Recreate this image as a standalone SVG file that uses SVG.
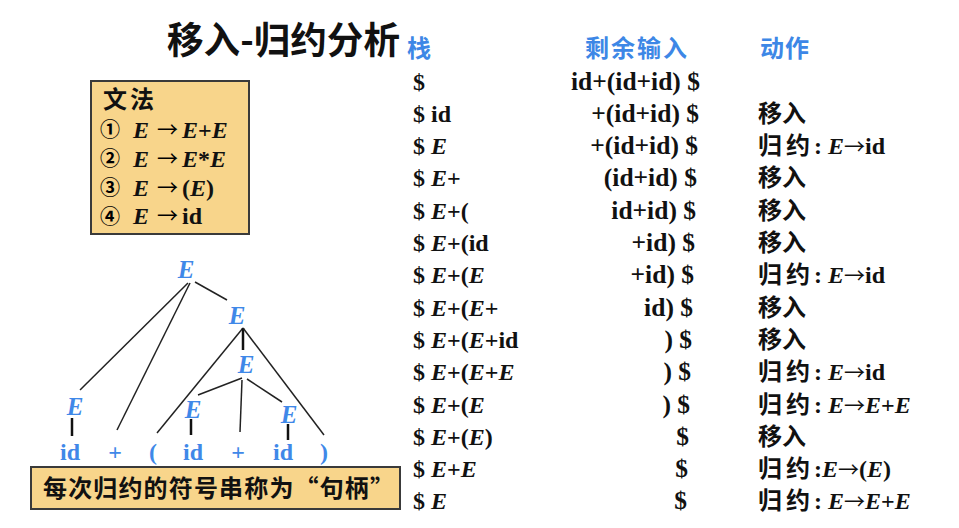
<svg xmlns="http://www.w3.org/2000/svg" width="959" height="528" viewBox="0 0 959 528">
<style>
.bg{fill:#ffffff}
.box{fill:#f8d58b;stroke:#3a3a3a;stroke-width:2}
.title{font-family:"Noto Sans CJK SC","Noto Sans",sans-serif;font-weight:bold;font-size:37px;fill:#111}
.hd{font-family:"Noto Sans CJK SC",sans-serif;font-weight:bold;font-size:24px;fill:#3d87e6}
.t{font-family:"Liberation Serif","Noto Sans CJK SC",serif;font-weight:bold;font-size:24px;fill:#111}
.mid{font-size:25.5px;text-anchor:end}
.i{font-style:italic}
.cjk{font-family:"Noto Sans CJK SC",sans-serif;font-weight:bold}
.ar{font-family:"Noto Sans CJK SC","DejaVu Sans",sans-serif;font-weight:normal;font-size:21px}
.g{font-family:"Liberation Serif","Noto Sans CJK SC",serif;font-weight:bold;font-size:24px;fill:#111}
.num{font-family:"Noto Sans CJK SC","DejaVu Sans",sans-serif;font-weight:bold;font-size:20px}
.node{font-family:"Liberation Serif",serif;font-weight:bold;font-style:italic;font-size:25px;fill:#3f88e8;text-anchor:middle}
.leaf{font-family:"Liberation Serif",serif;font-weight:bold;font-size:24px;fill:#3f88e8;text-anchor:middle}
.edge{stroke:#222;stroke-width:1.5;fill:none}
.stem{stroke:#111;stroke-width:2.5;fill:none}
.note{font-family:"Noto Sans CJK SC",sans-serif;font-weight:bold;font-size:24px;fill:#111}
</style>
<rect class="bg" x="0" y="0" width="959" height="528"/>

<g id="title">
<text class="title" x="167" y="54" textLength="233" lengthAdjust="spacingAndGlyphs">移入-归约分析</text>
</g>

<g id="grammar">
<rect class="box" x="91" y="81" width="158" height="153"/>
<text class="g cjk" x="103" y="108" font-size="19" letter-spacing="3">文法</text>
<text class="num" x="100" y="137">①</text>
<text class="g i" x="133" y="138">E</text>
<text class="ar" x="157" y="137">→</text>
<text class="g" x="182" y="138"><tspan class="i">E</tspan>+<tspan class="i">E</tspan></text>
<text class="num" x="100" y="166">②</text>
<text class="g i" x="133" y="167">E</text>
<text class="ar" x="157" y="166">→</text>
<text class="g" x="182" y="167"><tspan class="i">E</tspan>*<tspan class="i">E</tspan></text>
<text class="num" x="100" y="195">③</text>
<text class="g i" x="133" y="196">E</text>
<text class="ar" x="157" y="195">→</text>
<text class="g" x="182" y="196">(<tspan class="i">E</tspan>)</text>
<text class="num" x="100" y="224">④</text>
<text class="g i" x="133" y="224">E</text>
<text class="ar" x="157" y="223">→</text>
<text class="g" x="182" y="224">id</text>
</g>

<g id="connectors">
<line class="edge" x1="188" y1="283" x2="80" y2="390"/>
<line class="edge" x1="190" y1="283" x2="117" y2="430"/>
<line class="edge" x1="195" y1="282" x2="227" y2="300"/>
<line class="edge" x1="243" y1="328" x2="157" y2="433"/>
<line class="stem" x1="243" y1="328" x2="243" y2="350"/>
<line class="edge" x1="243" y1="328" x2="324" y2="435"/>
<line class="edge" x1="242" y1="378" x2="198" y2="395"/>
<line class="edge" x1="242" y1="380" x2="240" y2="432"/>
<line class="edge" x1="247" y1="379" x2="282" y2="402"/>
<line class="stem" x1="72" y1="418" x2="72" y2="436"/>
<line class="stem" x1="191" y1="419" x2="191" y2="435"/>
<line class="stem" x1="288" y1="424" x2="288" y2="440"/>
</g>

<g id="node-E-root"><text class="node" x="186" y="278">E</text></g>
<g id="node-E-right"><text class="node" x="237" y="324">E</text></g>
<g id="node-E-inner"><text class="node" x="246" y="373">E</text></g>
<g id="node-E-left"><text class="node" x="75" y="415">E</text></g>
<g id="node-E-id2"><text class="node" x="193" y="418">E</text></g>
<g id="node-E-id3"><text class="node" x="289" y="423">E</text></g>
<g id="leaf-id1"><text class="leaf" x="70" y="460">id</text></g>
<g id="leaf-plus1"><text class="leaf" x="115" y="460">+</text></g>
<g id="leaf-lparen"><text class="leaf" x="153" y="460">(</text></g>
<g id="leaf-id2"><text class="leaf" x="193" y="460">id</text></g>
<g id="leaf-plus2"><text class="leaf" x="238" y="460">+</text></g>
<g id="leaf-id3"><text class="leaf" x="283" y="460">id</text></g>
<g id="leaf-rparen"><text class="leaf" x="324" y="460">)</text></g>

<g id="note">
<rect class="box" x="31" y="467" width="369" height="42"/>
<text class="note" x="43" y="497" textLength="351" lengthAdjust="spacing">每次归约的符号串称为“句柄”</text>
</g>

<g id="table">
<text class="hd" x="407" y="57">栈</text>
<text class="hd" x="585" y="57" textLength="102" lengthAdjust="spacing">剩余输入</text>
<text class="hd" x="760" y="57" textLength="49" lengthAdjust="spacing">动作</text>

<text class="t" x="413" y="89.5">$</text>
<text class="t" x="413" y="121.8">$ id</text>
<text class="t" x="413" y="154.1">$ <tspan class="i">E</tspan></text>
<text class="t" x="413" y="186.4">$ <tspan class="i">E</tspan>+</text>
<text class="t" x="413" y="218.7">$ <tspan class="i">E</tspan>+(</text>
<text class="t" x="413" y="251">$ <tspan class="i">E</tspan>+(id</text>
<text class="t" x="413" y="283.3">$ <tspan class="i">E</tspan>+(<tspan class="i">E</tspan></text>
<text class="t" x="413" y="315.6">$ <tspan class="i">E</tspan>+(<tspan class="i">E</tspan>+</text>
<text class="t" x="413" y="347.9">$ <tspan class="i">E</tspan>+(<tspan class="i">E</tspan>+id</text>
<text class="t" x="413" y="380.2">$ <tspan class="i">E</tspan>+(<tspan class="i">E</tspan>+<tspan class="i">E</tspan></text>
<text class="t" x="413" y="412.5">$ <tspan class="i">E</tspan>+(<tspan class="i">E</tspan></text>
<text class="t" x="413" y="444.8">$ <tspan class="i">E</tspan>+(<tspan class="i">E</tspan>)</text>
<text class="t" x="413" y="477.1">$ <tspan class="i">E</tspan>+<tspan class="i">E</tspan></text>
<text class="t" x="413" y="509.4">$ <tspan class="i">E</tspan></text>

<text class="t mid" x="700" y="89.5">id+(id+id) $</text>
<text class="t mid" x="699" y="121.8">+(id+id) $</text>
<text class="t mid" x="698" y="154.1">+(id+id) $</text>
<text class="t mid" x="697" y="186.4">(id+id) $</text>
<text class="t mid" x="696" y="218.7">id+id) $</text>
<text class="t mid" x="695" y="251">+id) $</text>
<text class="t mid" x="694" y="283.3">+id) $</text>
<text class="t mid" x="693" y="315.6">id) $</text>
<text class="t mid" x="692" y="347.9">) $</text>
<text class="t mid" x="691" y="380.2">) $</text>
<text class="t mid" x="690" y="412.5">) $</text>
<text class="t mid" x="689" y="444.8">$</text>
<text class="t mid" x="688" y="477.1">$</text>
<text class="t mid" x="687" y="509.4">$</text>

<text class="t" x="758" y="121.8"><tspan class="cjk">移入</tspan></text>
<text class="t" x="758" y="154.1"><tspan class="cjk" letter-spacing="4">归约</tspan>: <tspan class="i">E</tspan><tspan class="ar">→</tspan>id</text>
<text class="t" x="758" y="186.4"><tspan class="cjk">移入</tspan></text>
<text class="t" x="758" y="218.7"><tspan class="cjk">移入</tspan></text>
<text class="t" x="758" y="251"><tspan class="cjk">移入</tspan></text>
<text class="t" x="758" y="283.3"><tspan class="cjk" letter-spacing="4">归约</tspan>: <tspan class="i">E</tspan><tspan class="ar">→</tspan>id</text>
<text class="t" x="758" y="315.6"><tspan class="cjk">移入</tspan></text>
<text class="t" x="758" y="347.9"><tspan class="cjk">移入</tspan></text>
<text class="t" x="758" y="380.2"><tspan class="cjk" letter-spacing="4">归约</tspan>: <tspan class="i">E</tspan><tspan class="ar">→</tspan>id</text>
<text class="t" x="758" y="412.5"><tspan class="cjk" letter-spacing="4">归约</tspan>: <tspan class="i">E</tspan><tspan class="ar">→</tspan><tspan class="i">E</tspan>+<tspan class="i">E</tspan></text>
<text class="t" x="758" y="444.8"><tspan class="cjk">移入</tspan></text>
<text class="t" x="758" y="477.1"><tspan class="cjk" letter-spacing="4">归约</tspan>:<tspan class="i">E</tspan><tspan class="ar">→</tspan>(<tspan class="i">E</tspan>)</text>
<text class="t" x="758" y="509.4"><tspan class="cjk" letter-spacing="4">归约</tspan>: <tspan class="i">E</tspan><tspan class="ar">→</tspan><tspan class="i">E</tspan>+<tspan class="i">E</tspan></text>
</g>
</svg>
